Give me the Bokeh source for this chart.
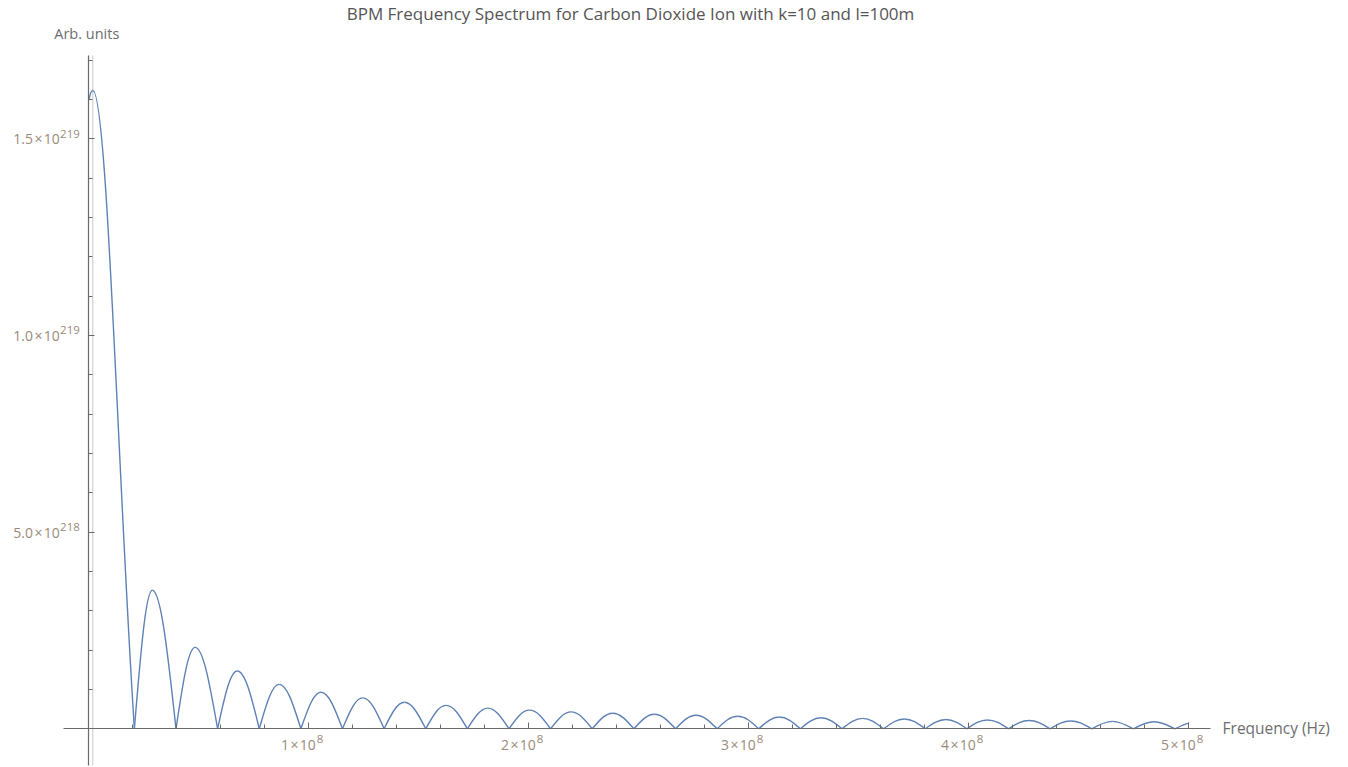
from bokeh.plotting import figure
from bokeh.models import Range1d, LinearAxis, FixedTicker, ColumnDataSource, Label
from bokeh.core.properties import value
from bokeh.embed import file_html
from bokeh.resources import INLINE

# ---------------------------------------------------------------- texts
TITLE = "BPM Frequency Spectrum for Carbon Dioxide Ion with k=10 and l=100m"
X_LABEL = "Frequency (Hz)"
Y_LABEL = "Arb. units"

# ---------------------------------------------------------------- spectrum
# main lobe: value at the start of the sweep and at its crest
main_lobe_freq = [0.0, 1.8e6]
main_lobe_amp = [1.598e219, 1.6225e219]

# nulls of the spectrum (Hz)
null_freq = [
    2.072e7, 3.964e7, 5.856e7, 7.748e7, 9.640e7, 1.1532e8, 1.3424e8,
    1.5316e8, 1.7208e8, 1.9100e8, 2.0992e8, 2.2884e8, 2.4776e8, 2.6668e8,
    2.8560e8, 3.0452e8, 3.2344e8, 3.4236e8, 3.6128e8, 3.8020e8, 3.9912e8,
    4.1804e8, 4.3696e8, 4.5588e8, 4.7480e8, 4.9372e8,
]

# side-lobe crests between consecutive nulls
sidelobe_peak_freq = [
    2.887e7, 4.832e7, 6.747e7, 8.651e7, 1.0551e8, 1.2449e8, 1.4345e8,
    1.6240e8, 1.8134e8, 2.0028e8, 2.1922e8, 2.3815e8, 2.5708e8, 2.7601e8,
    2.9494e8, 3.1387e8, 3.3279e8, 3.5172e8, 3.7064e8, 3.8957e8, 4.0849e8,
    4.2742e8, 4.4634e8, 4.6526e8, 4.8419e8,
]
sidelobe_peak_amp = [
    3.52e218, 2.07e218, 1.47e218, 1.13e218, 9.3e217, 7.85e217, 6.75e217,
    5.95e217, 5.25e217, 4.75e217, 4.3e217, 3.95e217, 3.7e217, 3.45e217,
    3.2e217, 3.0e217, 2.8e217, 2.65e217, 2.5e217, 2.35e217, 2.25e217,
    2.1e217, 2.0e217, 1.9e217, 1.8e217,
]

# last point of the sweep
tail_freq = 5.0e8
tail_amp = 1.45e217

# faint vertical marker at the main-lobe centre
marker_freq = 1.8e6

# ---------------------------------------------------------------- ticks
x_major_ticks = [1e8, 2e8, 3e8, 4e8, 5e8]
x_tick_mantissa = ["1", "2", "3", "4", "5"]
x_tick_exponent = ["8", "8", "8", "8", "8"]
x_minor_ticks = [k * 2e7 for k in range(1, 26) if k % 5]

y_major_ticks = [5e218, 1e219, 1.5e219]
y_tick_mantissa = ["5.0", "1.0", "1.5"]
y_tick_exponent = ["218", "219", "219"]
y_minor_ticks = [k * 1e218 for k in range(1, 18) if k % 5]

# ---------------------------------------------------------------- layout
W, H = 1348, 767
X_RANGE = (-4.0136e7, 5.7259e8)
Y_RANGE = (-9.837e217, 1.85127e219)
X_AXIS_SPAN = (-1.136e7, 5.099e8)
Y_AXIS_SPAN = (-9.33e217, 1.7115e219)

CURVE = "#5e81b5"
AXIS = "#6a6a6a"
TICK_TEXT = "#9a8a7a"
LABEL_TEXT = "#6e6e6e"
TITLE_TEXT = "#555555"
FONT = "Open Sans"

p = figure(width=W, height=H, x_range=Range1d(*X_RANGE), y_range=Range1d(*Y_RANGE),
           x_axis_type=None, y_axis_type=None, min_border=0,
           toolbar_location=None, output_backend="svg", title=None)
p.outline_line_color = None
p.xgrid.visible = False
p.ygrid.visible = False
p.background_fill_color = "white"
p.border_fill_color = "white"


def style_axis(ax):
    ax.axis_line_color = AXIS
    ax.axis_line_width = 1.2
    ax.major_tick_line_color = AXIS
    ax.minor_tick_line_color = AXIS
    ax.major_tick_in = 6
    ax.major_tick_out = 0
    ax.minor_tick_in = 4
    ax.minor_tick_out = 0
    ax.major_label_text_font_size = "0px"
    ax.major_label_text_alpha = 0


xaxis = LinearAxis(fixed_location=0, bounds=X_AXIS_SPAN,
                   ticker=FixedTicker(ticks=x_major_ticks, minor_ticks=x_minor_ticks))
xaxis.major_label_overrides = {t: "" for t in x_major_ticks}
style_axis(xaxis)
p.add_layout(xaxis, "below")

yaxis = LinearAxis(fixed_location=0, bounds=Y_AXIS_SPAN,
                   ticker=FixedTicker(ticks=y_major_ticks, minor_ticks=y_minor_ticks))
yaxis.major_label_overrides = {t: "" for t in y_major_ticks}
style_axis(yaxis)
p.add_layout(yaxis, "left")

# faint marker line
p.segment(x0=[marker_freq], y0=[Y_AXIS_SPAN[0]], x1=[marker_freq], y1=[Y_AXIS_SPAN[1]],
          line_color="#d2d2d2", line_width=1.2)

# ---------------------------------------------------------------- curve as cubic Bezier pieces
seg = {k: [] for k in ("x0", "y0", "cx0", "cy0", "cx1", "cy1", "x1", "y1")}


def piece(x0, y0, cx0, cy0, cx1, cy1, x1, y1):
    for k, v in zip(("x0", "y0", "cx0", "cy0", "cx1", "cy1", "x1", "y1"),
                    (x0, y0, cx0, cy0, cx1, cy1, x1, y1)):
        seg[k].append(v)


# short rise from the start of the sweep to the main crest
f0, a0 = main_lobe_freq[0], main_lobe_amp[0]
fp, ap = main_lobe_freq[1], main_lobe_amp[1]
w = fp - f0
piece(f0, a0, f0 + w / 3, a0 + 0.7 * (ap - a0), fp - w / 3, ap, fp, ap)
# main lobe falling to the first null
z1 = null_freq[0]
w = z1 - fp
piece(fp, ap, fp + 0.35 * w, ap, z1 - 0.4 * w, 0.4 * ap, z1, 0.0)

# side lobes: rising and falling halves
for za, fpk, apk, zb in zip(null_freq[:-1], sidelobe_peak_freq, sidelobe_peak_amp, null_freq[1:]):
    w = fpk - za
    piece(za, 0.0, za + 0.369 * w, 0.58 * apk, fpk - 0.35 * w, apk, fpk, apk)
    w = zb - fpk
    piece(fpk, apk, fpk + 0.35 * w, apk, zb - 0.369 * w, 0.58 * apk, zb, 0.0)

# partial lobe up to the end of the sweep
zl = null_freq[-1]
w = tail_freq - zl
piece(zl, 0.0, zl + w / 3, 0.403 * tail_amp, zl + 2 * w / 3, 0.798 * tail_amp, tail_freq, tail_amp)

p.bezier(source=ColumnDataSource(seg), x0="x0", y0="y0", x1="x1", y1="y1",
         cx0="cx0", cy0="cy0", cx1="cx1", cy1="cy1",
         line_color=CURVE, line_width=1.4)

# ---------------------------------------------------------------- tick labels (mantissa x 10^exp)
BASE_SIZE = "14px"
EXP_SIZE = "11.5px"
TIMES = "\u200a\u00d7\u200a10"

p.text(x=x_major_ticks, y=[0.0] * len(x_major_ticks),
       text=[m + TIMES for m in x_tick_mantissa],
       x_offset=7, y_offset=16, text_align="right", text_baseline="middle",
       text_font=value(FONT), text_font_size=BASE_SIZE, text_color=TICK_TEXT)
p.text(x=x_major_ticks, y=[0.0] * len(x_major_ticks), text=x_tick_exponent,
       x_offset=8, y_offset=10, text_align="left", text_baseline="middle",
       text_font=value(FONT), text_font_size=EXP_SIZE, text_color=TICK_TEXT)

p.text(x=[0.0] * len(y_major_ticks), y=y_major_ticks,
       text=[m + TIMES for m in y_tick_mantissa],
       x_offset=-29, y_offset=0, text_align="right", text_baseline="middle",
       text_font=value(FONT), text_font_size=BASE_SIZE, text_color=TICK_TEXT)
p.text(x=[0.0] * len(y_major_ticks), y=y_major_ticks, text=y_tick_exponent,
       x_offset=-9, y_offset=-5, text_align="right", text_baseline="middle",
       text_font=value(FONT), text_font_size=EXP_SIZE, text_color=TICK_TEXT)

# ---------------------------------------------------------------- axis names and title
p.text(x=[0.0], y=[Y_AXIS_SPAN[1]], text=[Y_LABEL], x_offset=-2, y_offset=-22,
       text_align="center", text_baseline="middle",
       text_font=value(FONT), text_font_size="14.5px", text_color=LABEL_TEXT)
p.text(x=[X_AXIS_SPAN[1]], y=[0.0], text=[X_LABEL], x_offset=12, y_offset=-1,
       text_align="left", text_baseline="middle",
       text_font=value(FONT), text_font_size="15.5px", text_color=LABEL_TEXT)

p.add_layout(Label(x=630, y=H - 13, x_units="screen", y_units="screen", text=TITLE,
                   text_align="center", text_baseline="middle",
                   text_font=FONT, text_font_size="17px", text_color=TITLE_TEXT))

open("out.html", "w").write(file_html(p, INLINE))
